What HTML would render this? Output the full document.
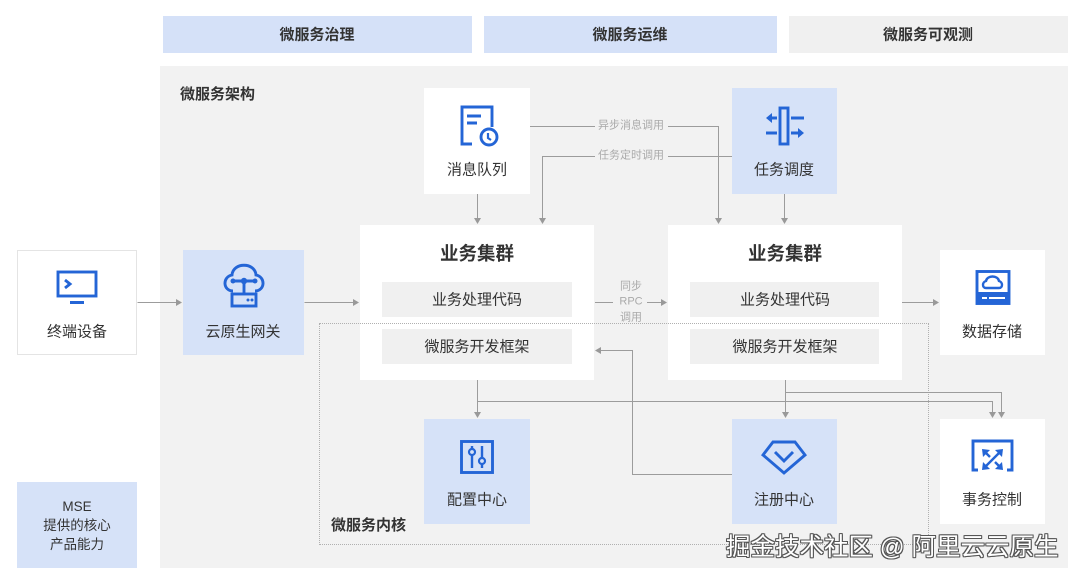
<!DOCTYPE html>
<html><head><meta charset="utf-8">
<style>
*{margin:0;padding:0;box-sizing:border-box}
html,body{width:1080px;height:581px;overflow:hidden;background:#fff}
body{position:relative;font-family:"Liberation Sans","Noto Sans CJK SC",sans-serif;color:#333}
.b{position:absolute}
.t{position:absolute;transform:translate(-50%,-50%);white-space:nowrap;font-size:15px;line-height:1;color:#333}
.bold{font-weight:bold}
.blue{background:#d6e2f8}
.white{background:#fff}
.inner{background:#f0f0f0}
.small{font-size:11px;color:#aaa}
svg{position:absolute;left:0;top:0}
</style></head><body>
<!-- top bars -->
<div class="b blue" style="left:163px;top:16px;width:309px;height:37px;background:#d5e1f8"></div>
<div class="b blue" style="left:484px;top:16px;width:293px;height:37px;background:#d5e1f8"></div>
<div class="b" style="left:789px;top:16px;width:279px;height:37px;background:#f0f0f0"></div>
<div class="t bold" style="left:317px;top:35px">微服务治理</div>
<div class="t bold" style="left:630px;top:35px">微服务运维</div>
<div class="t bold" style="left:928px;top:35px">微服务可观测</div>

<!-- main panel -->
<div class="b" style="left:160px;top:66px;width:908px;height:502px;background:#f2f2f2"></div>
<div class="b bold" style="left:180px;top:87px;font-size:15px;line-height:16px">微服务架构</div>

<!-- left nodes -->
<div class="b white" style="left:17px;top:250px;width:120px;height:105px;border:1px solid #e4e4e4"></div>
<div class="t" style="left:77px;top:332px">终端设备</div>
<div class="b blue" style="left:183px;top:250px;width:121px;height:105px"></div>
<div class="t" style="left:243px;top:332px">云原生网关</div>

<!-- MQ / Task -->
<div class="b white" style="left:424px;top:88px;width:106px;height:106px"></div>
<div class="t" style="left:477px;top:170px">消息队列</div>
<div class="b blue" style="left:732px;top:88px;width:105px;height:106px"></div>
<div class="t" style="left:784px;top:170px">任务调度</div>

<!-- clusters -->
<div class="b white" style="left:360px;top:225px;width:234px;height:155px"></div>
<div class="t bold" style="left:477px;top:254px;font-size:18.5px">业务集群</div>
<div class="b inner" style="left:382px;top:282px;width:190px;height:35px"></div>
<div class="t" style="left:477px;top:300px">业务处理代码</div>
<div class="b inner" style="left:382px;top:329px;width:190px;height:35px"></div>
<div class="t" style="left:477px;top:347px">微服务开发框架</div>

<div class="b white" style="left:668px;top:225px;width:234px;height:155px"></div>
<div class="t bold" style="left:785px;top:254px;font-size:18.5px">业务集群</div>
<div class="b inner" style="left:690px;top:282px;width:189px;height:35px"></div>
<div class="t" style="left:785px;top:300px">业务处理代码</div>
<div class="b inner" style="left:690px;top:329px;width:189px;height:35px"></div>
<div class="t" style="left:785px;top:347px">微服务开发框架</div>

<!-- right nodes -->
<div class="b white" style="left:940px;top:250px;width:105px;height:105px"></div>
<div class="t" style="left:992px;top:332px">数据存储</div>

<!-- bottom nodes -->
<div class="b blue" style="left:424px;top:419px;width:106px;height:105px"></div>
<div class="t" style="left:477px;top:500px">配置中心</div>
<div class="b blue" style="left:732px;top:419px;width:105px;height:105px"></div>
<div class="t" style="left:784px;top:500px">注册中心</div>
<div class="b white" style="left:940px;top:419px;width:105px;height:105px"></div>
<div class="t" style="left:992px;top:500px">事务控制</div>

<!-- MSE -->
<div class="b blue" style="left:17px;top:482px;width:120px;height:86px"></div>
<div class="b" style="left:17px;top:497px;width:120px;text-align:center;font-size:13.5px;line-height:19px;color:#333">MSE<br>提供的核心<br>产品能力</div>

<!-- dotted kernel rect -->
<div class="b" style="left:319px;top:323px;width:610px;height:222px;border:1px dotted #b0b0b0"></div>
<div class="b bold" style="left:331px;top:518px;font-size:15px;line-height:16px">微服务内核</div>

<!-- connector labels -->
<div class="t small" style="left:631px;top:126px">异步消息调用</div>
<div class="t small" style="left:631px;top:156px">任务定时调用</div>
<div class="t small" style="left:631px;top:287px">同步</div>
<div class="t small" style="left:631px;top:302px">RPC</div>
<div class="t small" style="left:631px;top:318px">调用</div>

<svg width="1080" height="581" viewBox="0 0 1080 581">
<g stroke="#9c9c9c" stroke-width="1" fill="none">
  <path d="M137.5 302.5H178"/>
  <path d="M304.5 302.5H355"/>
  <path d="M530 126.5H595M668 126.5H718.5V219"/>
  <path d="M732 156.5H668M595 156.5H542.5V219"/>
  <path d="M477.5 194V219"/>
  <path d="M784.5 194V219"/>
  <path d="M595 302.5H613M647 302.5H662"/>
  <path d="M902 302.5H934"/>
  <path d="M477.5 380V413"/>
  <path d="M477.5 401.5H992.5V413"/>
  <path d="M785.5 380V413"/>
  <path d="M785.5 392.5H1001.5V413"/>
  <path d="M732 474.5H632.5V350.5H600"/>
</g>
<g fill="#999">
  <path d="M182 302.5l-6-3.5v7z"/>
  <path d="M359 302.5l-6-3.5v7z"/>
  <path d="M718.5 224l-3.5-6h7z"/>
  <path d="M542.5 224l-3.5-6h7z"/>
  <path d="M477.5 224l-3.5-6h7z"/>
  <path d="M784.5 224l-3.5-6h7z"/>
  <path d="M667 302.5l-6-3.5v7z"/>
  <path d="M939 302.5l-6-3.5v7z"/>
  <path d="M477.5 418l-3.5-6h7z"/>
  <path d="M992.5 418l-3.5-6h7z"/>
  <path d="M785.5 418l-3.5-6h7z"/>
  <path d="M1001.5 418l-3.5-6h7z"/>
  <path d="M595 350.5l6-3.5v7z"/>
</g>

<g stroke="#2465d6" stroke-width="2.9" fill="none" stroke-linejoin="miter">
  <!-- monitor -->
  <rect x="58" y="272" width="38" height="24"/>
  <path d="M65 280l5 4-5 4"/>
  <path d="M70 302.5H84" stroke-width="3"/>
  <!-- cloud gateway -->
  <path d="M233 291C223 291 222 277 232 275C233 262 255 262 256 275C266 277 265 291 255 291"/>
  <path d="M233 281H255M244 281V293"/>
  <rect x="232" y="294" width="24" height="12"/>
  <!-- doc clock -->
  <path d="M472 144H462V107H492V127"/>
  <path d="M467 116H481M467 123H477"/>
  <circle cx="489" cy="137" r="8"/>
  <path d="M488 133v5l3 2" stroke-width="2.2"/>
  <!-- task scheduling -->
  <rect x="780" y="108" width="8" height="36"/>
  <path d="M768 118H777M791 118H804M766 133H777M791 133H801"/>
  <!-- storage -->
  <rect x="977" y="271.5" width="32" height="32"/>
  <path d="M986 288C982 288 982 282 986 281C987 275 998 275 999 281C1003 282 1003 288 999 288Z" stroke-width="2.4"/>
  <!-- config -->
  <rect x="461.5" y="441.5" width="31" height="31"/>
  <path d="M472 446V468M482 446V468" stroke-width="2.4"/>
  <!-- diamond -->
  <path d="M773 442H795L805 455L784 473L763 455Z"/>
  <path d="M775 452L784 461L793 452"/>
  <!-- transaction -->
  <path d="M978 470H973V441H1012V470H1007"/>
  <path d="M985 467L1000 452M985 452L990 457M1000 467L995 462" stroke-width="2.4"/>
</g>
<g fill="#2465d6">
  <rect x="977" y="292" width="32" height="12"/>
  <path d="M766 118l6-5v10z"/>
  <path d="M804 133l-6-5v10z"/>
  <circle cx="248" cy="300" r="1.5"/>
  <circle cx="252" cy="300" r="1.5"/>
  <circle cx="233" cy="281" r="2.5"/>
  <circle cx="255" cy="281" r="2.5"/>
  <circle cx="244" cy="281" r="3.2"/>
  <path d="M1003 449l-8 1 7 7z"/>
  <path d="M982 470l8-1-7-7z"/>
  <path d="M982 449l8 1-7 7z"/>
  <path d="M1003 470l-8-1 7-7z"/>
</g>
<g fill="#fff">
  <rect x="982" y="297" width="5" height="2"/>
  <rect x="989" y="297" width="16" height="2"/>
</g>
<g fill="#d6e2f8" stroke="#2465d6" stroke-width="2.2">
  <circle cx="472" cy="452" r="3"/>
  <circle cx="482" cy="461" r="3"/>
</g>
</svg>

<!-- watermark -->
<div class="b" style="left:726px;top:534px;font-size:24.5px;line-height:28px;color:#fff;white-space:nowrap;text-shadow:1px 1px 0 #555,-1px -1px 0 #555,1px -1px 0 #555,-1px 1px 0 #555,0 1px 0 #555,0 -1px 0 #555,1px 0 0 #555,-1px 0 0 #555">掘金技术社区 @ 阿里云云原生</div>
</body></html>
